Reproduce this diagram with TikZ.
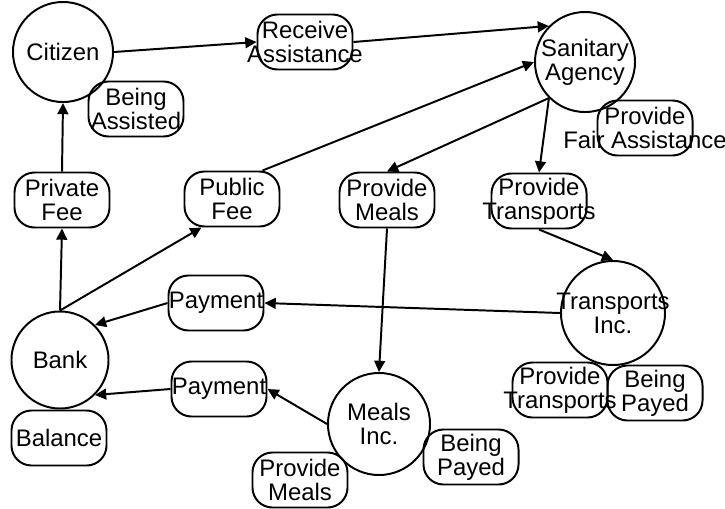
\documentclass[tikz,border=0pt]{standalone}
\usepackage{fontspec}
\setmainfont{Liberation Sans}
\usepackage{tikz}
\usetikzlibrary{arrows.meta, positioning}
\newcommand{\zw}[1]{\makebox[0pt]{#1}}

\begin{document}
\begin{tikzpicture}[x=0.025cm, y=-0.025cm, line width=1.4pt,
    font=\fontsize{17}{17}\selectfont,
    actor/.style={circle, draw, minimum size=2.5cm, inner sep=0pt, align=center},
    role/.style={rectangle, draw, rounded corners=0.5cm, minimum width=2.375cm, minimum height=1.375cm, inner sep=0pt, align=center},
    flow/.style={-{Triangle[length=0.28cm, width=0.27cm]}}]
    \useasboundingbox (0,0) rectangle (725,508);

    \node (Citizen) [actor] at (63,52) {Citizen};
    \node (BeingAssisted) [role] at (136,109) {Being\\Assisted};
    \node (ReceiveAssistance) [role] at (305,42) {\zw{Receive}\\\zw{Assistance}};

    \node (SanitaryAgency) [actor] at (585,62) {Sanitary\\Agency};
    \node (FairAssistance) [role] at (645,128) {\zw{Provide}\\\zw{Fair Assistance}};

    \node (PrivateFee) [role] at (62,200) {Private\\Fee};
    \node (PublicFee) [role] at (232,199) {Public\\Fee};
    \node (ProvideMeals) [role] at (387,200) {Provide\\Meals};
    \node (ProvideTransports) [role] at (539,201) {\zw{Provide}\\\zw{Transports}};

    \node (TransportsInc) [actor, minimum size=2.6cm] at (613,313) {\zw{Transports}\\Inc.};
    \node (TransportsProvide) [role] at (560,390) {\zw{Provide}\\\zw{Transports}};
    \node (TransportsPayed) [role] at (655,393) {Being\\Payed};

    \node (Bank) [actor, minimum size=2.425cm] at (60,360) {Bank};
    \node (Balance) [role] at (59,438) {Balance};
    \node (TransportsPayment) [role] at (216,303) {\zw{Payment}};
    \node (MealsPayment) [role] at (219,389) {\zw{Payment}};

    \node (MealsInc) [actor, minimum size=2.55cm] at (379,424) {Meals\\Inc.};
    \node (MealsPayed) [role] at (471,457) {Being\\Payed};
    \node (MealsProvide) [role] at (300,480) {Provide\\Meals};

    \draw[flow] (Citizen.east) -- (ReceiveAssistance.west);
    \draw[flow] (ReceiveAssistance.east) -- (SanitaryAgency.north west);
    \draw[flow] ([xshift=-0.45cm]PublicFee.north east) -- (SanitaryAgency.west);
    \draw[flow] (SanitaryAgency.south west) -- (ProvideMeals.north);
    \draw[flow] (SanitaryAgency.south west) -- (ProvideTransports.north);

    \draw[flow] (ProvideTransports.south) -- (TransportsInc.north);
    \draw[flow] (ProvideMeals.south) -- (MealsInc.north);

    \draw[flow] (TransportsInc.west) -- (TransportsPayment.east);
    \draw[flow] (TransportsPayment.west) -- (Bank.north east);
    \draw[flow] (MealsInc.west) -- (MealsPayment.east);
    \draw[flow] (MealsPayment.west) -- (Bank.south east);

    \draw[flow] (Bank.north) -- (PrivateFee.south);
    \draw[flow] (Bank.north) -- ([xshift=0.45cm]PublicFee.south west);
    \draw[flow] (PrivateFee.north) -- (Citizen.south);

\end{tikzpicture}
\end{document}
